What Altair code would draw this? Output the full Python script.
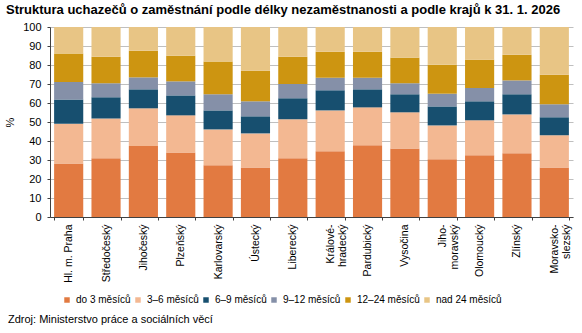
import altair as alt
import pandas as pd

regions = ["Hl. m. Praha", "Středočeský", "Jihočeský", "Plzeňský", "Karlovarský",
           "Ústecký", "Liberecký", "Králové-\nhradecký", "Pardubický", "Vysočina",
           "Jiho-\nmoravský", "Olomoucký", "Zlínský", "Moravsko-\nslezský"]

categories = ["do 3 měsíců", "3–6 měsíců", "6–9 měsíců", "9–12 měsíců",
              "12–24 měsíců", "nad 24 měsíců"]
colors = ["#E27A41", "#F3B892", "#174F6F", "#8590A8", "#CD9511", "#E8C585"]

do3 = [28.2, 30.9, 37.4, 34.0, 27.2, 26.1, 30.9, 34.6, 37.7, 36.1, 30.4, 32.5, 33.5, 26.1]
m3_6 = [20.9, 21.0, 19.8, 19.5, 18.9, 17.9, 20.5, 21.5, 20.0, 19.0, 17.8, 18.4, 20.5, 16.9]
m6_9 = [12.8, 11.1, 10.0, 10.5, 10.0, 9.0, 11.1, 10.6, 9.5, 9.5, 10.0, 10.0, 10.6, 9.5]
m9_12 = [9.2, 7.4, 6.3, 7.4, 8.5, 7.9, 7.5, 6.6, 6.1, 5.8, 6.7, 7.0, 7.3, 6.8]
m12_24 = [14.9, 14.0, 14.0, 13.5, 17.2, 16.1, 14.4, 13.7, 13.7, 13.5, 15.3, 14.9, 13.5, 15.6]
nad24 = [14.0, 15.6, 12.5, 15.1, 18.2, 23.0, 15.6, 13.0, 13.0, 16.1, 19.8, 17.2, 14.6, 25.1]

y_ticks = list(range(0, 101, 10))
title_text = "Struktura uchazečů o zaměstnání podle délky nezaměstnanosti a podle krajů k 31. 1. 2026"
source_text = "Zdroj: Ministerstvo práce a sociálních věcí"

series = [do3, m3_6, m6_9, m9_12, m12_24, nad24]
rows = []
for ci, (cat, vals) in enumerate(zip(categories, series)):
    for r, v in zip(regions, vals):
        rows.append({"region": r, "category": cat, "value": v, "idx": ci})
df = pd.DataFrame(rows)

FONT = "Liberation Sans"
AXC = "#404040"

bars = alt.Chart(df).mark_bar().encode(
    x=alt.X("region:N", sort=regions,
            scale=alt.Scale(paddingInner=0.22, paddingOuter=0.11),
            axis=alt.Axis(title=None, labelAngle=-90, labelAlign="right",
                          labelBaseline="middle",
                          labelExpr="split(datum.label, '\\n')",
                          tickBand="extent", tickSize=3, labelPadding=4,
                          labelFontSize=10.5, labelFont=FONT, labelColor="#000000",
                          domainColor=AXC, tickColor=AXC, grid=False)),
    y=alt.Y("value:Q", stack="zero",
            scale=alt.Scale(domain=[0, 100], nice=False),
            axis=alt.Axis(values=y_ticks, title="%", titleFont=FONT, titleFontSize=11,
                          titleFontWeight="normal", titleColor="#000000",
                          titleX=-35, titleY=95, titleAngle=-90,
                          tickSize=3, labelPadding=6, labelFontSize=11, labelFont=FONT,
                          labelColor="#000000", domainColor=AXC, tickColor=AXC,
                          gridColor="#BFBFBF", gridWidth=1)),
    color=alt.Color("category:N", sort=categories,
                    scale=alt.Scale(domain=categories, range=colors),
                    legend=alt.Legend(title=None, orient="none", direction="horizontal",
                                      columns=6, legendX=12, legendY=268,
                                      symbolType="square", symbolSize=30,
                                      symbolStrokeWidth=0, labelFont=FONT,
                                      labelFontSize=10, labelColor="#000000",
                                      labelOffset=4, columnPadding=2, padding=0)),
    order=alt.Order("idx:Q", sort="ascending"),
)

source = alt.Chart(pd.DataFrame({"t": [source_text]})).mark_text(
    align="left", baseline="middle", font=FONT, fontSize=11, color="#000000"
).encode(x=alt.value(-42), y=alt.value(293), text="t:N")

chart = alt.layer(bars, source).properties(
    width=523, height=190,
    autosize=alt.AutoSizeParams(type="none"),
    padding={"left": 50, "top": 27, "right": 9, "bottom": 116},
    title=alt.TitleParams(title_text, anchor="start", frame="group", font=FONT,
                          fontSize=13, fontWeight="bold", color="#000000",
                          dx=-44, offset=4),
).configure_view(strokeWidth=0)

chart.save("out.html", embed_options={"renderer": "svg", "actions": False})
